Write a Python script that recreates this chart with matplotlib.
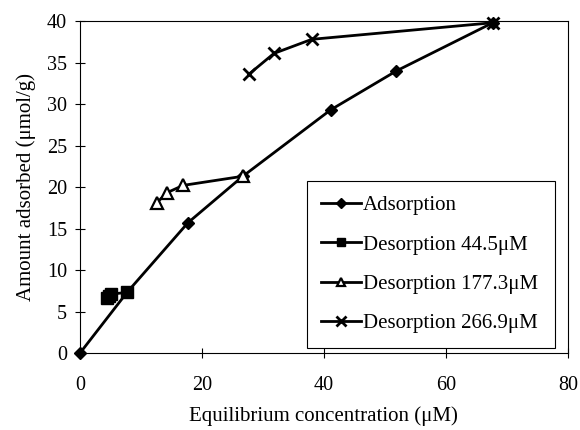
import matplotlib
matplotlib.use("Agg")
from matplotlib import pyplot as plt

# values
ads_x = [0, 7.7, 17.7, 26.7, 41.1, 51.9, 67.7]
ads_y = [0, 7.3, 15.7, 21.3, 29.3, 34.0, 39.8]

des44_x = [7.7, 5.0, 4.7, 4.5]
des44_y = [7.3, 7.1, 6.9, 6.6]

des177_x = [26.7, 16.9, 14.2, 12.6]
des177_y = [21.3, 20.2, 19.3, 18.1]

des266_x = [67.7, 38.0, 31.8, 27.7]
des266_y = [39.8, 37.8, 36.1, 33.6]

x_ticks = [0, 20, 40, 60, 80]
y_ticks = [0, 5, 10, 15, 20, 25, 30, 35, 40]


def main():
    plt.rcParams['font.family'] = ['Liberation Serif', 'DejaVu Serif']
    plt.rcParams['font.size'] = 15

    fig = plt.figure(figsize=(5.8, 4.3), dpi=100)
    ax = fig.add_axes([0.138, 0.179, 0.841, 0.772])

    ax.plot(ads_x, ads_y, color='black', lw=2, marker='D', ms=6,
            mfc='black', mec='black', label='Adsorption', clip_on=False, zorder=3)
    ax.plot(des44_x, des44_y, color='black', lw=2, marker='s', ms=8,
            mfc='black', mec='black', label='Desorption 44.5μM', clip_on=False, zorder=3)
    ax.plot(des177_x, des177_y, color='black', lw=2, marker='^', ms=8,
            mfc='white', mec='black', mew=1.6, label='Desorption 177.3μM', clip_on=False, zorder=3)
    ax.plot(des266_x, des266_y, color='black', lw=2, marker='x', ms=9,
            mec='black', mew=2, label='Desorption 266.9μM', clip_on=False, zorder=3)

    ax.set_xlim(0, 80)
    ax.set_ylim(0, 40)
    ax.set_xticks(x_ticks)
    ax.set_yticks(y_ticks)
    ax.tick_params(direction='inout', length=7, width=0.8, pad=13, labelsize=14.5)
    ax.tick_params(axis='y', pad=6)
    for s in ax.spines.values():
        s.set_linewidth(0.8)

    ax.set_xlabel('Equilibrium concentration (μM)', labelpad=8, fontsize=15)
    ax.set_ylabel('Amount adsorbed (μmol/g)', labelpad=8, fontsize=15)

    leg = ax.legend(loc='lower left', bbox_to_anchor=(0.465, 0.015, 0.508, 0.49),
                    mode='expand', fancybox=False, framealpha=1, edgecolor='black',
                    handlelength=1.9, handletextpad=0.1, labelspacing=0.95,
                    borderpad=0.7, borderaxespad=0, fontsize=15, markerscale=0.8)
    leg.get_frame().set_linewidth(0.8)

    fig.savefig('out.png', dpi=100)


if __name__ == '__main__':
    main()
